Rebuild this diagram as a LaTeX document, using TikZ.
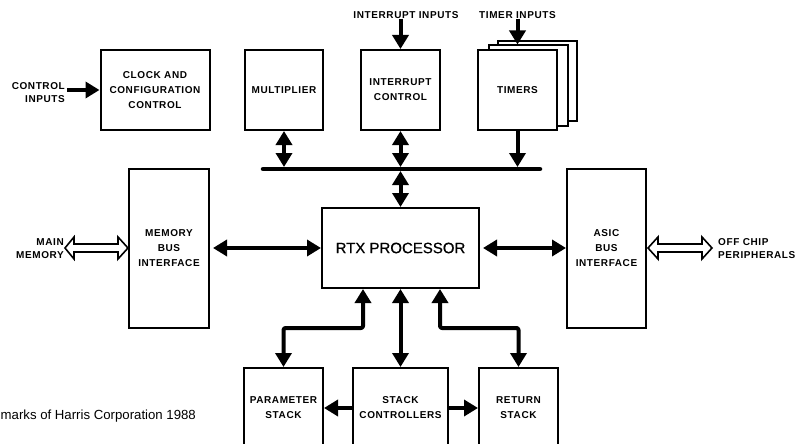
\documentclass[tikz,border=0pt]{standalone}
\usepackage{fontspec}
\setmainfont{Liberation Sans}
\newfontfamily\labfont[LetterSpace=6]{Liberation Sans}
\newfontfamily\rtxfont[FakeBold=0.6]{Liberation Sans}
\usetikzlibrary{arrows.meta,calc}
\begin{document}
\begin{tikzpicture}[x=1pt,y=-1pt,
 box/.style={draw,line width=2pt,fill=white,inner sep=0pt,align=center,font=\labfont\bfseries\fontsize{10}{15}\selectfont},
 lab/.style={inner sep=0pt,font=\labfont\bfseries\fontsize{10}{13}\selectfont},
 arr/.style={line width=4pt,-{Triangle[length=14pt,width=16pt]}},
 dbl/.style={line width=4pt,{Triangle[length=14pt,width=16pt]}-{Triangle[length=14pt,width=16pt]},line join=round},
 hollow/.style={draw,line width=1.6pt,fill=white,line join=miter},
 bus/.style={line width=4.5pt,line cap=round}
]
\useasboundingbox (0,0) rectangle (804,444);
\clip (0,0) rectangle (804,444);

% boxes
\node[box,minimum width=109pt,minimum height=80pt] (clock) at (155,90) {CLOCK AND\\CONFIGURATION\\CONTROL};
\node[box,minimum width=78pt,minimum height=80pt] (mult) at (284,90) {MULTIPLIER};
\node[box,minimum width=79pt,minimum height=80pt] (intc) at (400.5,90) {INTERRUPT\\CONTROL};
\node[box,minimum width=79pt,minimum height=80pt] (timC) at (537.5,81) {};
\node[box,minimum width=79pt,minimum height=80pt] (timB) at (528.5,85.5) {};
\node[box,minimum width=79pt,minimum height=80pt] (timers) at (517.5,90) {TIMERS};
\node[box,minimum width=80pt,minimum height=159pt] (mbi) at (169,248) {MEMORY\\BUS\\INTERFACE};
\node[box,minimum width=79pt,minimum height=159pt] (asic) at (606.5,248) {ASIC\\BUS\\INTERFACE};
\node[box,minimum width=157pt,minimum height=80pt,font=\rtxfont\fontsize{15}{18}\selectfont] (rtx) at (400.5,248) {RTX PROCESSOR};
\node[box,minimum width=79pt,minimum height=80pt] (pstack) at (283.5,408) {PARAMETER\\STACK};
\node[box,minimum width=95pt,minimum height=80pt] (sctl) at (400.5,408) {STACK\\CONTROLLERS};
\node[box,minimum width=79pt,minimum height=80pt] (rstack) at (518.5,408) {RETURN\\STACK};

% labels
\node[lab,anchor=east,align=right] (ctlin) at (65,93) {CONTROL\\INPUTS};
\node[lab] (intin) at (406,15) {INTERRUPT INPUTS};
\node[lab] (timin) at (517.5,15) {TIMER INPUTS};
\node[lab,anchor=east,align=right] (mmem) at (64,249) {MAIN\\MEMORY};
\node[lab,anchor=west,align=left] (offc) at (718,248.5) {OFF CHIP\\PERIPHERALS};
\node[anchor=base west,inner sep=0pt,font=\fontsize{13.2}{15}\selectfont] (foot) at (0.5,419) {marks of Harris Corporation 1988};

% inputs
\draw[arr] ($(ctlin.east |- clock.west)+(2,0)$) -- (clock.west);
\draw[arr] (intin.south -| intc.north) -- (intc.north);
\draw[arr] (timin.south -| timers.north) -- (timers.north |- timB.north);

% bus
\coordinate (busL) at (263,169);
\coordinate (busR) at (540,169);
\coordinate (busT) at (0,167);
\coordinate (busB) at (0,171);
\draw[bus] (busL) -- (busR);
\draw[dbl] (mult.south) -- (mult.south |- busT);
\draw[dbl] (intc.south) -- (intc.south |- busT);
\draw[dbl] (rtx.north |- busB) -- (rtx.north);
\draw[arr] (timers.south) -- (timers.south |- busT);

% side links
\draw[dbl] ($(mbi.east)+(3,0)$) -- (rtx.west);
\draw[dbl] ($(rtx.east)+(3,0)$) -- (asic.west);

% stacks
\coordinate (pj) at (363,328);
\coordinate (rj) at (440,328);
\draw[dbl,rounded corners=2pt] (rtx.south -| pj) -- (pj) -| (pstack.north);
\draw[dbl] (sctl.north) -- (sctl.north |- rtx.south);
\draw[dbl,rounded corners=2pt] (rtx.south -| rj) -- (rj) -| (rstack.north);
\draw[arr] (sctl.west) -- (pstack.east);
\draw[arr] (sctl.east) -- (rstack.west);

% hollow bus arrows
\coordinate (mmtip) at (65,248);
\coordinate (octip) at (712,248);
\draw[hollow] let \p1=(mmtip), \p2=(mbi.west) in
 (\x1,\y1) -- (\x1+9pt,\y1+11pt) -- (\x1+9pt,\y1+4pt) -- (\x2-10pt,\y1+4pt) -- (\x2-10pt,\y1+11pt) -- (\x2,\y1)
 -- (\x2-10pt,\y1-11pt) -- (\x2-10pt,\y1-4pt) -- (\x1+9pt,\y1-4pt) -- (\x1+9pt,\y1-11pt) -- cycle;
\draw[hollow] let \p1=(asic.east), \p2=(octip) in
 (\x1+1pt,\y1) -- (\x1+11pt,\y1+11pt) -- (\x1+11pt,\y1+4pt) -- (\x2-10pt,\y1+4pt) -- (\x2-10pt,\y1+11pt) -- (\x2,\y1)
 -- (\x2-10pt,\y1-11pt) -- (\x2-10pt,\y1-4pt) -- (\x1+11pt,\y1-4pt) -- (\x1+11pt,\y1-11pt) -- cycle;
\end{tikzpicture}
\end{document}
